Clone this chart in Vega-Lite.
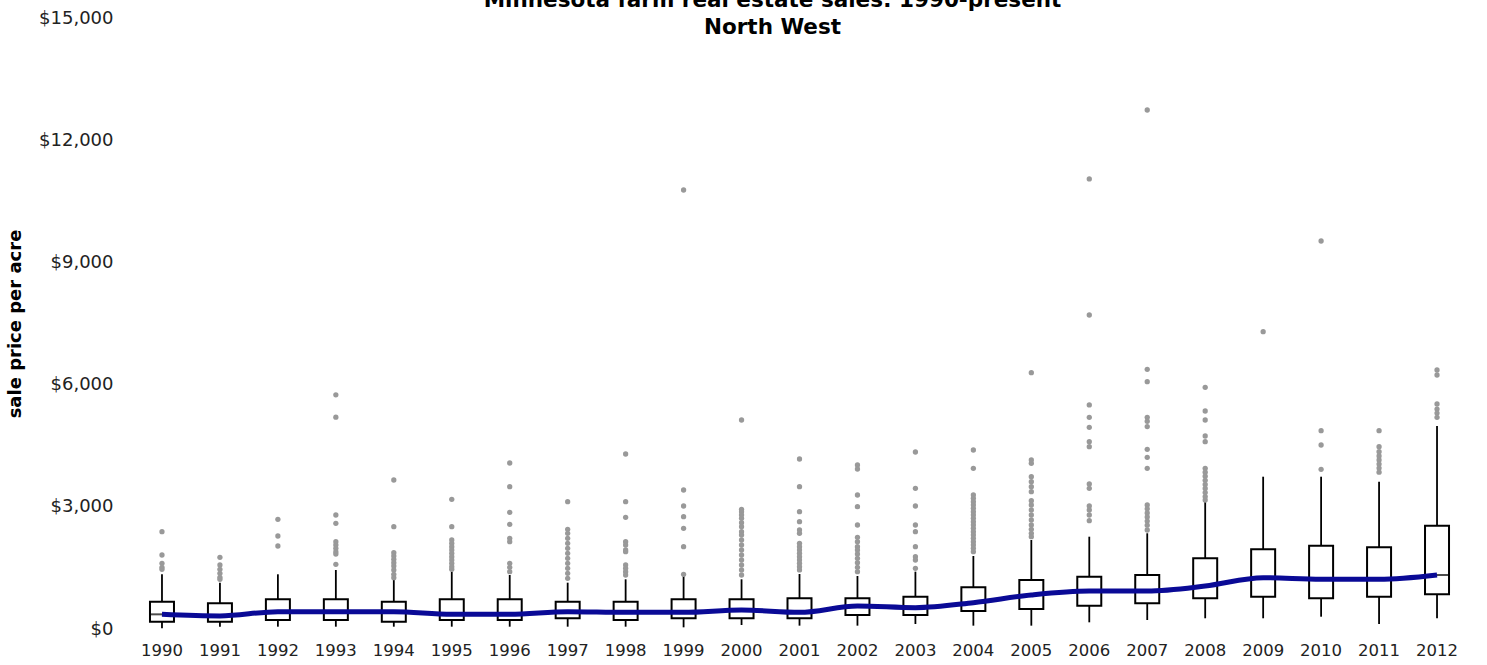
{
  "$schema": "https://vega.github.io/schema/vega-lite/v6.json",
  "autosize": {"type": "none"},
  "width": 1333,
  "height": 611,
  "padding": {"left": 133, "top": 18, "right": 21, "bottom": 36},
  "background": "white",
  "title": {
    "text": ["Minnesota farm real estate sales: 1990-present", "North West"],
    "font": "DejaVu Sans",
    "fontSize": 21.5,
    "fontWeight": "bold",
    "color": "#000000",
    "anchor": "middle",
    "dx": -27,
    "dy": 32,
    "baseline": "bottom",
    "offset": -19,
    "lineHeight": 27
  },
  "config": {
    "view": {"stroke": null},
    "axis": {
      "domain": false,
      "ticks": false,
      "grid": false,
      "labelFont": "DejaVu Sans",
      "labelColor": "#222222",
      "titleFont": "DejaVu Sans",
      "titleFontSize": 18,
      "titleFontWeight": "bold",
      "titleColor": "#000000"
    }
  },
  "datasets": {
    "boxes": [
      {"year": "1990", "lower": 20, "q1": 180, "median": 360, "q3": 670, "upper": 1343},
      {"year": "1991", "lower": 57, "q1": 180, "median": 320, "q3": 630, "upper": 1137},
      {"year": "1992", "lower": 57, "q1": 221, "median": 425, "q3": 729, "upper": 1343},
      {"year": "1993", "lower": 57, "q1": 221, "median": 425, "q3": 729, "upper": 1449},
      {"year": "1994", "lower": 57, "q1": 180, "median": 425, "q3": 670, "upper": 1203},
      {"year": "1995", "lower": 57, "q1": 221, "median": 360, "q3": 729, "upper": 1408},
      {"year": "1996", "lower": 57, "q1": 221, "median": 360, "q3": 729, "upper": 1326},
      {"year": "1997", "lower": 57, "q1": 263, "median": 425, "q3": 670, "upper": 1137},
      {"year": "1998", "lower": 57, "q1": 221, "median": 409, "q3": 670, "upper": 1220},
      {"year": "1999", "lower": 41, "q1": 263, "median": 409, "q3": 729, "upper": 1367},
      {"year": "2000", "lower": 98, "q1": 263, "median": 466, "q3": 729, "upper": 1220},
      {"year": "2001", "lower": 82, "q1": 263, "median": 409, "q3": 754, "upper": 1350},
      {"year": "2002", "lower": 82, "q1": 344, "median": 565, "q3": 754, "upper": 1301},
      {"year": "2003", "lower": 123, "q1": 344, "median": 523, "q3": 794, "upper": 1408},
      {"year": "2004", "lower": 82, "q1": 442, "median": 646, "q3": 1024, "upper": 1792},
      {"year": "2005", "lower": 82, "q1": 491, "median": 835, "q3": 1203, "upper": 2185},
      {"year": "2006", "lower": 164, "q1": 572, "median": 933, "q3": 1284, "upper": 2266},
      {"year": "2007", "lower": 221, "q1": 630, "median": 933, "q3": 1326, "upper": 2350},
      {"year": "2008", "lower": 263, "q1": 754, "median": 1056, "q3": 1736, "upper": 3125},
      {"year": "2009", "lower": 263, "q1": 794, "median": 1260, "q3": 1957, "upper": 3739},
      {"year": "2010", "lower": 302, "q1": 754, "median": 1220, "q3": 2045, "upper": 3739},
      {"year": "2011", "lower": 123, "q1": 794, "median": 1220, "q3": 2005, "upper": 3616},
      {"year": "2012", "lower": 263, "q1": 852, "median": 1326, "q3": 2536, "upper": 4984}
    ],
    "outliers": [
      {"year": "1990", "value": 2390}, {"year": "1990", "value": 1817}, {"year": "1990", "value": 1612}, {"year": "1990", "value": 1514}, {"year": "1990", "value": 1465},
      {"year": "1991", "value": 1760}, {"year": "1991", "value": 1571}, {"year": "1991", "value": 1465}, {"year": "1991", "value": 1367}, {"year": "1991", "value": 1269}, {"year": "1991", "value": 1220},
      {"year": "1992", "value": 2693}, {"year": "1992", "value": 2283}, {"year": "1992", "value": 2038},
      {"year": "1993", "value": 5750}, {"year": "1993", "value": 5200}, {"year": "1993", "value": 2799}, {"year": "1993", "value": 2595}, {"year": "1993", "value": 2143}, {"year": "1993", "value": 2062}, {"year": "1993", "value": 1981}, {"year": "1993", "value": 1898}, {"year": "1993", "value": 1841}, {"year": "1993", "value": 1588},
      {"year": "1994", "value": 3658}, {"year": "1994", "value": 2512}, {"year": "1994", "value": 1874}, {"year": "1994", "value": 1792}, {"year": "1994", "value": 1711}, {"year": "1994", "value": 1628}, {"year": "1994", "value": 1547}, {"year": "1994", "value": 1449}, {"year": "1994", "value": 1343}, {"year": "1994", "value": 1260},
      {"year": "1995", "value": 3184}, {"year": "1995", "value": 2512}, {"year": "1995", "value": 2185}, {"year": "1995", "value": 2104}, {"year": "1995", "value": 2021}, {"year": "1995", "value": 1939}, {"year": "1995", "value": 1858}, {"year": "1995", "value": 1775}, {"year": "1995", "value": 1694}, {"year": "1995", "value": 1613}, {"year": "1995", "value": 1530}, {"year": "1995", "value": 1465},
      {"year": "1996", "value": 4075}, {"year": "1996", "value": 3494}, {"year": "1996", "value": 2865}, {"year": "1996", "value": 2570}, {"year": "1996", "value": 2227}, {"year": "1996", "value": 2143}, {"year": "1996", "value": 1613}, {"year": "1996", "value": 1514}, {"year": "1996", "value": 1408},
      {"year": "1997", "value": 3125}, {"year": "1997", "value": 2448}, {"year": "1997", "value": 2350}, {"year": "1997", "value": 2227}, {"year": "1997", "value": 2104}, {"year": "1997", "value": 1981}, {"year": "1997", "value": 1858}, {"year": "1997", "value": 1736}, {"year": "1997", "value": 1613}, {"year": "1997", "value": 1490}, {"year": "1997", "value": 1367}, {"year": "1997", "value": 1245},
      {"year": "1998", "value": 4296}, {"year": "1998", "value": 3125}, {"year": "1998", "value": 2742}, {"year": "1998", "value": 2143}, {"year": "1998", "value": 2062}, {"year": "1998", "value": 1939}, {"year": "1998", "value": 1898}, {"year": "1998", "value": 1571}, {"year": "1998", "value": 1490}, {"year": "1998", "value": 1408}, {"year": "1998", "value": 1326},
      {"year": "1999", "value": 10777}, {"year": "1999", "value": 3412}, {"year": "1999", "value": 3020}, {"year": "1999", "value": 2757}, {"year": "1999", "value": 2472}, {"year": "1999", "value": 2021}, {"year": "1999", "value": 1343},
      {"year": "2000", "value": 5131}, {"year": "2000", "value": 2939}, {"year": "2000", "value": 2880}, {"year": "2000", "value": 2799}, {"year": "2000", "value": 2718}, {"year": "2000", "value": 2610}, {"year": "2000", "value": 2512}, {"year": "2000", "value": 2389}, {"year": "2000", "value": 2308}, {"year": "2000", "value": 2185}, {"year": "2000", "value": 2062}, {"year": "2000", "value": 1939}, {"year": "2000", "value": 1817}, {"year": "2000", "value": 1694}, {"year": "2000", "value": 1571}, {"year": "2000", "value": 1449}, {"year": "2000", "value": 1326},
      {"year": "2001", "value": 4174}, {"year": "2001", "value": 3494}, {"year": "2001", "value": 2880}, {"year": "2001", "value": 2634}, {"year": "2001", "value": 2430}, {"year": "2001", "value": 2350}, {"year": "2001", "value": 2104}, {"year": "2001", "value": 2021}, {"year": "2001", "value": 1939}, {"year": "2001", "value": 1858}, {"year": "2001", "value": 1775}, {"year": "2001", "value": 1694}, {"year": "2001", "value": 1613}, {"year": "2001", "value": 1530}, {"year": "2001", "value": 1449},
      {"year": "2002", "value": 4026}, {"year": "2002", "value": 3928}, {"year": "2002", "value": 3290}, {"year": "2002", "value": 3003}, {"year": "2002", "value": 2553}, {"year": "2002", "value": 2251}, {"year": "2002", "value": 2143}, {"year": "2002", "value": 2021}, {"year": "2002", "value": 1939}, {"year": "2002", "value": 1841}, {"year": "2002", "value": 1736}, {"year": "2002", "value": 1628}, {"year": "2002", "value": 1514}, {"year": "2002", "value": 1408},
      {"year": "2003", "value": 4345}, {"year": "2003", "value": 3454}, {"year": "2003", "value": 3020}, {"year": "2003", "value": 2553}, {"year": "2003", "value": 2389}, {"year": "2003", "value": 2021}, {"year": "2003", "value": 1775}, {"year": "2003", "value": 1694}, {"year": "2003", "value": 1490},
      {"year": "2004", "value": 4394}, {"year": "2004", "value": 3945}, {"year": "2004", "value": 3290}, {"year": "2004", "value": 3209}, {"year": "2004", "value": 3125}, {"year": "2004", "value": 3044}, {"year": "2004", "value": 2963}, {"year": "2004", "value": 2880}, {"year": "2004", "value": 2799}, {"year": "2004", "value": 2718}, {"year": "2004", "value": 2634}, {"year": "2004", "value": 2553}, {"year": "2004", "value": 2472}, {"year": "2004", "value": 2389}, {"year": "2004", "value": 2308}, {"year": "2004", "value": 2227}, {"year": "2004", "value": 2143}, {"year": "2004", "value": 2062}, {"year": "2004", "value": 1981}, {"year": "2004", "value": 1898},
      {"year": "2005", "value": 6292}, {"year": "2005", "value": 4149}, {"year": "2005", "value": 4068}, {"year": "2005", "value": 3739}, {"year": "2005", "value": 3616}, {"year": "2005", "value": 3494}, {"year": "2005", "value": 3371}, {"year": "2005", "value": 3150}, {"year": "2005", "value": 3044}, {"year": "2005", "value": 2921}, {"year": "2005", "value": 2799}, {"year": "2005", "value": 2676}, {"year": "2005", "value": 2553}, {"year": "2005", "value": 2448}, {"year": "2005", "value": 2350}, {"year": "2005", "value": 2266},
      {"year": "2006", "value": 11048}, {"year": "2006", "value": 7709}, {"year": "2006", "value": 5500}, {"year": "2006", "value": 5197}, {"year": "2006", "value": 4952}, {"year": "2006", "value": 4599}, {"year": "2006", "value": 4476}, {"year": "2006", "value": 3560}, {"year": "2006", "value": 3454}, {"year": "2006", "value": 3020}, {"year": "2006", "value": 2921}, {"year": "2006", "value": 2799}, {"year": "2006", "value": 2659},
      {"year": "2007", "value": 12741}, {"year": "2007", "value": 6375}, {"year": "2007", "value": 6071}, {"year": "2007", "value": 5197}, {"year": "2007", "value": 5100}, {"year": "2007", "value": 4970}, {"year": "2007", "value": 4411}, {"year": "2007", "value": 4215}, {"year": "2007", "value": 3945}, {"year": "2007", "value": 3044}, {"year": "2007", "value": 2950}, {"year": "2007", "value": 2850}, {"year": "2007", "value": 2750}, {"year": "2007", "value": 2650}, {"year": "2007", "value": 2550}, {"year": "2007", "value": 2430},
      {"year": "2008", "value": 5934}, {"year": "2008", "value": 5352}, {"year": "2008", "value": 5131}, {"year": "2008", "value": 4738}, {"year": "2008", "value": 4599}, {"year": "2008", "value": 3945}, {"year": "2008", "value": 3850}, {"year": "2008", "value": 3750}, {"year": "2008", "value": 3650}, {"year": "2008", "value": 3550}, {"year": "2008", "value": 3450}, {"year": "2008", "value": 3350}, {"year": "2008", "value": 3250}, {"year": "2008", "value": 3167},
      {"year": "2009", "value": 7299},
      {"year": "2010", "value": 9525}, {"year": "2010", "value": 4869}, {"year": "2010", "value": 4517}, {"year": "2010", "value": 3921},
      {"year": "2011", "value": 4869}, {"year": "2011", "value": 4476}, {"year": "2011", "value": 4353}, {"year": "2011", "value": 4250}, {"year": "2011", "value": 4150}, {"year": "2011", "value": 4050}, {"year": "2011", "value": 3950}, {"year": "2011", "value": 3850},
      {"year": "2012", "value": 6358}, {"year": "2012", "value": 6236}, {"year": "2012", "value": 5524}, {"year": "2012", "value": 5400}, {"year": "2012", "value": 5300}, {"year": "2012", "value": 5197}
    ]
  },
  "layer": [
    {
      "data": {"name": "boxes"},
      "mark": {"type": "rule", "color": "#000000", "strokeWidth": 1.8},
      "encoding": {
        "x": {"field": "year", "type": "ordinal", "scale": {"paddingInner": 0, "paddingOuter": 0}, "axis": {"title": null, "labelAngle": 0, "labelPadding": 13, "labelFontSize": 16.5}},
        "y": {"field": "lower", "type": "quantitative", "scale": {"domain": [0, 15000], "nice": false, "zero": true}, "axis": {"title": "sale price per acre", "values": [0, 3000, 6000, 9000, 12000, 15000], "format": "$,.0f", "labelFontSize": 18, "labelPadding": 20, "titlePadding": 14}},
        "y2": {"field": "upper"}
      }
    },
    {
      "data": {"name": "boxes"},
      "mark": {"type": "bar", "size": 24, "fill": "#ffffff", "stroke": "#000000", "strokeWidth": 2},
      "encoding": {
        "x": {"field": "year", "type": "ordinal"},
        "y": {"field": "q1", "type": "quantitative"},
        "y2": {"field": "q3"}
      }
    },
    {
      "data": {"name": "boxes"},
      "mark": {"type": "tick", "color": "#000000", "size": 24, "thickness": 2},
      "encoding": {
        "x": {"field": "year", "type": "ordinal"},
        "y": {"field": "median", "type": "quantitative"}
      }
    },
    {
      "data": {"name": "outliers"},
      "mark": {"type": "point", "filled": true, "color": "#999999", "opacity": 1, "size": 28},
      "encoding": {
        "x": {"field": "year", "type": "ordinal"},
        "y": {"field": "value", "type": "quantitative"}
      }
    },
    {
      "data": {"name": "boxes"},
      "mark": {"type": "line", "color": "#0a0a96", "strokeWidth": 5, "interpolate": "monotone"},
      "encoding": {
        "x": {"field": "year", "type": "ordinal"},
        "y": {"field": "median", "type": "quantitative"}
      }
    }
  ]
}
